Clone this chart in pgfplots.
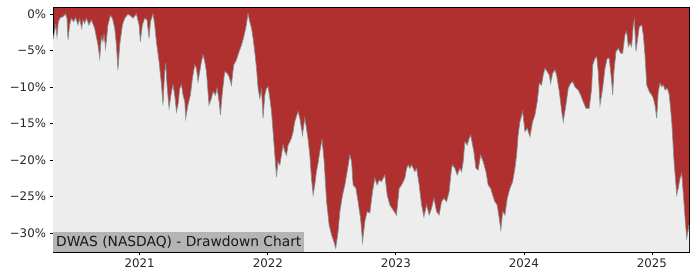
\documentclass[border=0pt]{standalone}
\usepackage{fontspec}
\setmainfont{DejaVu Sans}
\usepackage{pgfplots}
\usepackage{pgfplotstable}
\pgfplotsset{compat=1.18}
\definecolor{ddred}{RGB}{176,48,48}
\definecolor{bggray}{RGB}{237,237,237}
\definecolor{ddline}{RGB}{135,140,140}
\definecolor{boxgray}{RGB}{180,180,180}

\pgfplotstableread{
x y
2020.324 -3.42
2020.344 -1.51
2020.354 -3.11
2020.365 -1.05
2020.380 -0.51
2020.401 -0.37
2020.420 0.00
2020.432 -0.59
2020.440 -3.56
2020.453 -1.51
2020.466 -0.59
2020.484 -1.05
2020.500 -0.51
2020.518 -1.51
2020.531 -0.68
2020.547 -1.96
2020.557 -0.82
2020.570 -1.27
2020.584 -0.59
2020.604 -1.51
2020.623 -0.82
2020.648 -1.96
2020.674 -4.25
2020.688 -6.07
2020.701 -3.11
2020.713 -3.79
2020.721 -2.88
2020.734 -4.70
2020.752 -1.51
2020.771 -0.20
2020.787 -0.59
2020.805 -1.96
2020.818 -4.25
2020.830 -7.67
2020.844 -4.25
2020.865 -1.51
2020.883 -0.59
2020.909 0.00
2020.935 -0.37
2020.948 -0.55
2020.974 0.00
2020.995 -1.51
2021.005 -3.79
2021.021 -1.51
2021.039 -0.59
2021.057 -0.82
2021.073 -3.33
2021.084 -1.05
2021.104 0.00
2021.117 -1.51
2021.130 -3.79
2021.151 -6.53
2021.170 -9.73
2021.182 -12.47
2021.195 -7.90
2021.203 -6.75
2021.213 -9.73
2021.229 -12.92
2021.248 -10.64
2021.260 -9.73
2021.273 -11.10
2021.287 -13.38
2021.299 -12.47
2021.313 -10.18
2021.326 -9.73
2021.338 -11.10
2021.352 -12.01
2021.359 -14.29
2021.377 -12.47
2021.396 -11.10
2021.412 -8.81
2021.430 -6.99
2021.443 -7.44
2021.455 -9.27
2021.469 -7.90
2021.482 -6.53
2021.495 -5.62
2021.508 -6.53
2021.521 -7.90
2021.541 -12.47
2021.560 -11.55
2021.573 -10.64
2021.591 -11.10
2021.604 -10.18
2021.620 -12.01
2021.630 -13.84
2021.646 -10.64
2021.664 -7.90
2021.682 -8.12
2021.698 -8.59
2021.716 -9.73
2021.734 -6.99
2021.755 -6.30
2021.776 -5.16
2021.795 -4.25
2021.813 -3.11
2021.828 -1.96
2021.846 0.00
2021.859 -1.05
2021.873 -1.96
2021.885 -3.33
2021.898 -5.16
2021.912 -7.44
2021.924 -10.18
2021.938 -11.55
2021.951 -10.41
2021.963 -14.29
2021.977 -11.10
2021.990 -10.18
2022.002 -9.96
2022.016 -11.55
2022.029 -13.38
2022.041 -16.12
2022.055 -19.32
2022.068 -22.29
2022.080 -20.23
2022.094 -20.68
2022.107 -19.32
2022.120 -17.95
2022.133 -18.86
2022.146 -19.32
2022.159 -17.95
2022.172 -17.49
2022.185 -16.99
2022.198 -16.12
2022.211 -14.75
2022.227 -13.84
2022.237 -13.38
2022.250 -14.29
2022.271 -16.58
2022.289 -14.29
2022.302 -15.66
2022.315 -17.26
2022.328 -19.32
2022.341 -22.51
2022.354 -24.79
2022.367 -23.42
2022.380 -21.60
2022.393 -20.41
2022.406 -18.86
2022.424 -17.26
2022.440 -20.23
2022.459 -25.71
2022.479 -28.90
2022.498 -30.27
2022.516 -31.19
2022.531 -32.10
2022.549 -29.82
2022.563 -27.08
2022.584 -24.79
2022.602 -23.42
2022.620 -21.60
2022.641 -19.32
2022.654 -20.23
2022.666 -23.42
2022.688 -23.88
2022.705 -25.71
2022.724 -27.99
2022.740 -31.19
2022.758 -28.45
2022.776 -27.08
2022.797 -27.26
2022.818 -24.34
2022.836 -22.51
2022.854 -23.42
2022.870 -22.74
2022.888 -22.97
2022.914 -22.05
2022.932 -24.79
2022.953 -26.16
2022.979 -26.85
2023.005 -27.53
2023.026 -23.88
2023.045 -23.42
2023.070 -22.51
2023.084 -21.14
2023.096 -20.68
2023.109 -21.14
2023.123 -20.68
2023.148 -21.60
2023.162 -21.14
2023.182 -23.42
2023.201 -26.16
2023.219 -27.77
2023.240 -26.16
2023.260 -27.53
2023.279 -26.62
2023.297 -25.25
2023.318 -27.08
2023.338 -27.53
2023.357 -25.71
2023.375 -25.25
2023.396 -25.71
2023.416 -24.34
2023.435 -21.14
2023.443 -20.68
2023.461 -21.14
2023.479 -22.05
2023.500 -21.14
2023.513 -21.60
2023.526 -20.23
2023.539 -17.49
2023.557 -17.95
2023.573 -17.03
2023.584 -16.58
2023.599 -17.95
2023.609 -18.86
2023.625 -21.14
2023.643 -21.37
2023.662 -19.32
2023.682 -20.23
2023.703 -21.60
2023.721 -23.42
2023.740 -23.88
2023.755 -24.79
2023.773 -25.71
2023.791 -26.16
2023.807 -27.99
2023.820 -29.59
2023.834 -27.08
2023.852 -27.53
2023.870 -25.25
2023.891 -23.88
2023.912 -22.97
2023.930 -21.14
2023.943 -19.32
2023.955 -16.58
2023.969 -14.75
2023.990 -13.38
2024.008 -16.12
2024.026 -15.66
2024.047 -16.81
2024.068 -14.75
2024.086 -13.84
2024.104 -12.01
2024.120 -9.49
2024.138 -9.73
2024.151 -8.36
2024.164 -7.44
2024.182 -7.90
2024.198 -8.36
2024.209 -9.49
2024.224 -8.12
2024.242 -7.67
2024.255 -8.36
2024.276 -10.64
2024.295 -13.38
2024.307 -14.75
2024.328 -12.47
2024.346 -10.18
2024.365 -9.49
2024.380 -9.27
2024.398 -9.96
2024.424 -10.41
2024.443 -11.10
2024.463 -12.01
2024.484 -12.92
2024.510 -12.92
2024.529 -10.18
2024.537 -6.99
2024.555 -6.07
2024.568 -5.85
2024.580 -7.90
2024.594 -12.47
2024.615 -10.18
2024.633 -7.44
2024.651 -6.07
2024.666 -6.07
2024.685 -9.27
2024.693 -11.10
2024.703 -7.90
2024.719 -5.16
2024.737 -4.70
2024.755 -5.38
2024.771 -5.38
2024.789 -2.88
2024.802 -2.42
2024.815 -4.48
2024.828 -4.01
2024.841 -4.48
2024.854 -1.51
2024.862 -0.82
2024.875 -5.16
2024.885 -3.79
2024.901 -1.74
2024.920 -1.51
2024.932 -2.88
2024.945 -5.62
2024.959 -9.73
2024.979 -10.64
2024.998 -11.10
2025.010 -11.55
2025.023 -12.47
2025.037 -14.29
2025.049 -10.64
2025.063 -9.49
2025.076 -9.96
2025.088 -9.73
2025.102 -10.41
2025.120 -10.18
2025.135 -11.10
2025.154 -14.75
2025.172 -20.23
2025.193 -24.79
2025.205 -23.88
2025.219 -22.51
2025.232 -21.82
2025.245 -24.79
2025.258 -27.99
2025.271 -30.73
2025.284 -29.45
2025.289 -28.90
}\dd

\begin{document}
\begin{tikzpicture}
\begin{axis}[
  scale only axis,
  width=636pt, height=245pt,
  xmin=2020.323, xmax=2025.289,
  ymin=-32.6, ymax=0.96,
  axis background/.style={fill=ddred},
  axis line style={black, line width=0.9pt},
  tick align=outside,
  major tick length=3.5pt,
  tick style={black, line width=0.8pt},
  xtick={2021,2022,2023,2024,2025},
  xticklabels={2021,2022,2023,2024,2025},
  ytick={-30,-25,-20,-15,-10,-5,0},
  yticklabels={−30\%,−25\%,−20\%,−15\%,−10\%,−5\%,0\%},
  ticklabel style={font=\fontsize{11.8}{14}\selectfont, text=black!85},
  xtick pos=bottom, ytick pos=left,
  clip=true,
]
\addplot[fill=bggray, draw=none] table[x=x,y=y] {\dd} |- (axis cs:2020.323,-35) -- cycle;
\addplot[draw=ddline, line width=0.7pt] table[x=x,y=y] {\dd};
\node[anchor=south west, fill=boxgray, inner xsep=3pt, inner ysep=0pt,
      minimum height=20pt, text=black!90,
      font=\fontsize{13.8}{16}\selectfont]
  at (rel axis cs:0,0) {DWAS (NASDAQ) - Drawdown Chart};
\end{axis}
\path (current axis.south west) ++(-53pt,-28pt) coordinate (bbA);
\path (current axis.south west) ++(647pt,252pt) coordinate (bbB);
\pgfresetboundingbox
\path[use as bounding box] (bbA) rectangle (bbB);
\end{tikzpicture}
\end{document}
